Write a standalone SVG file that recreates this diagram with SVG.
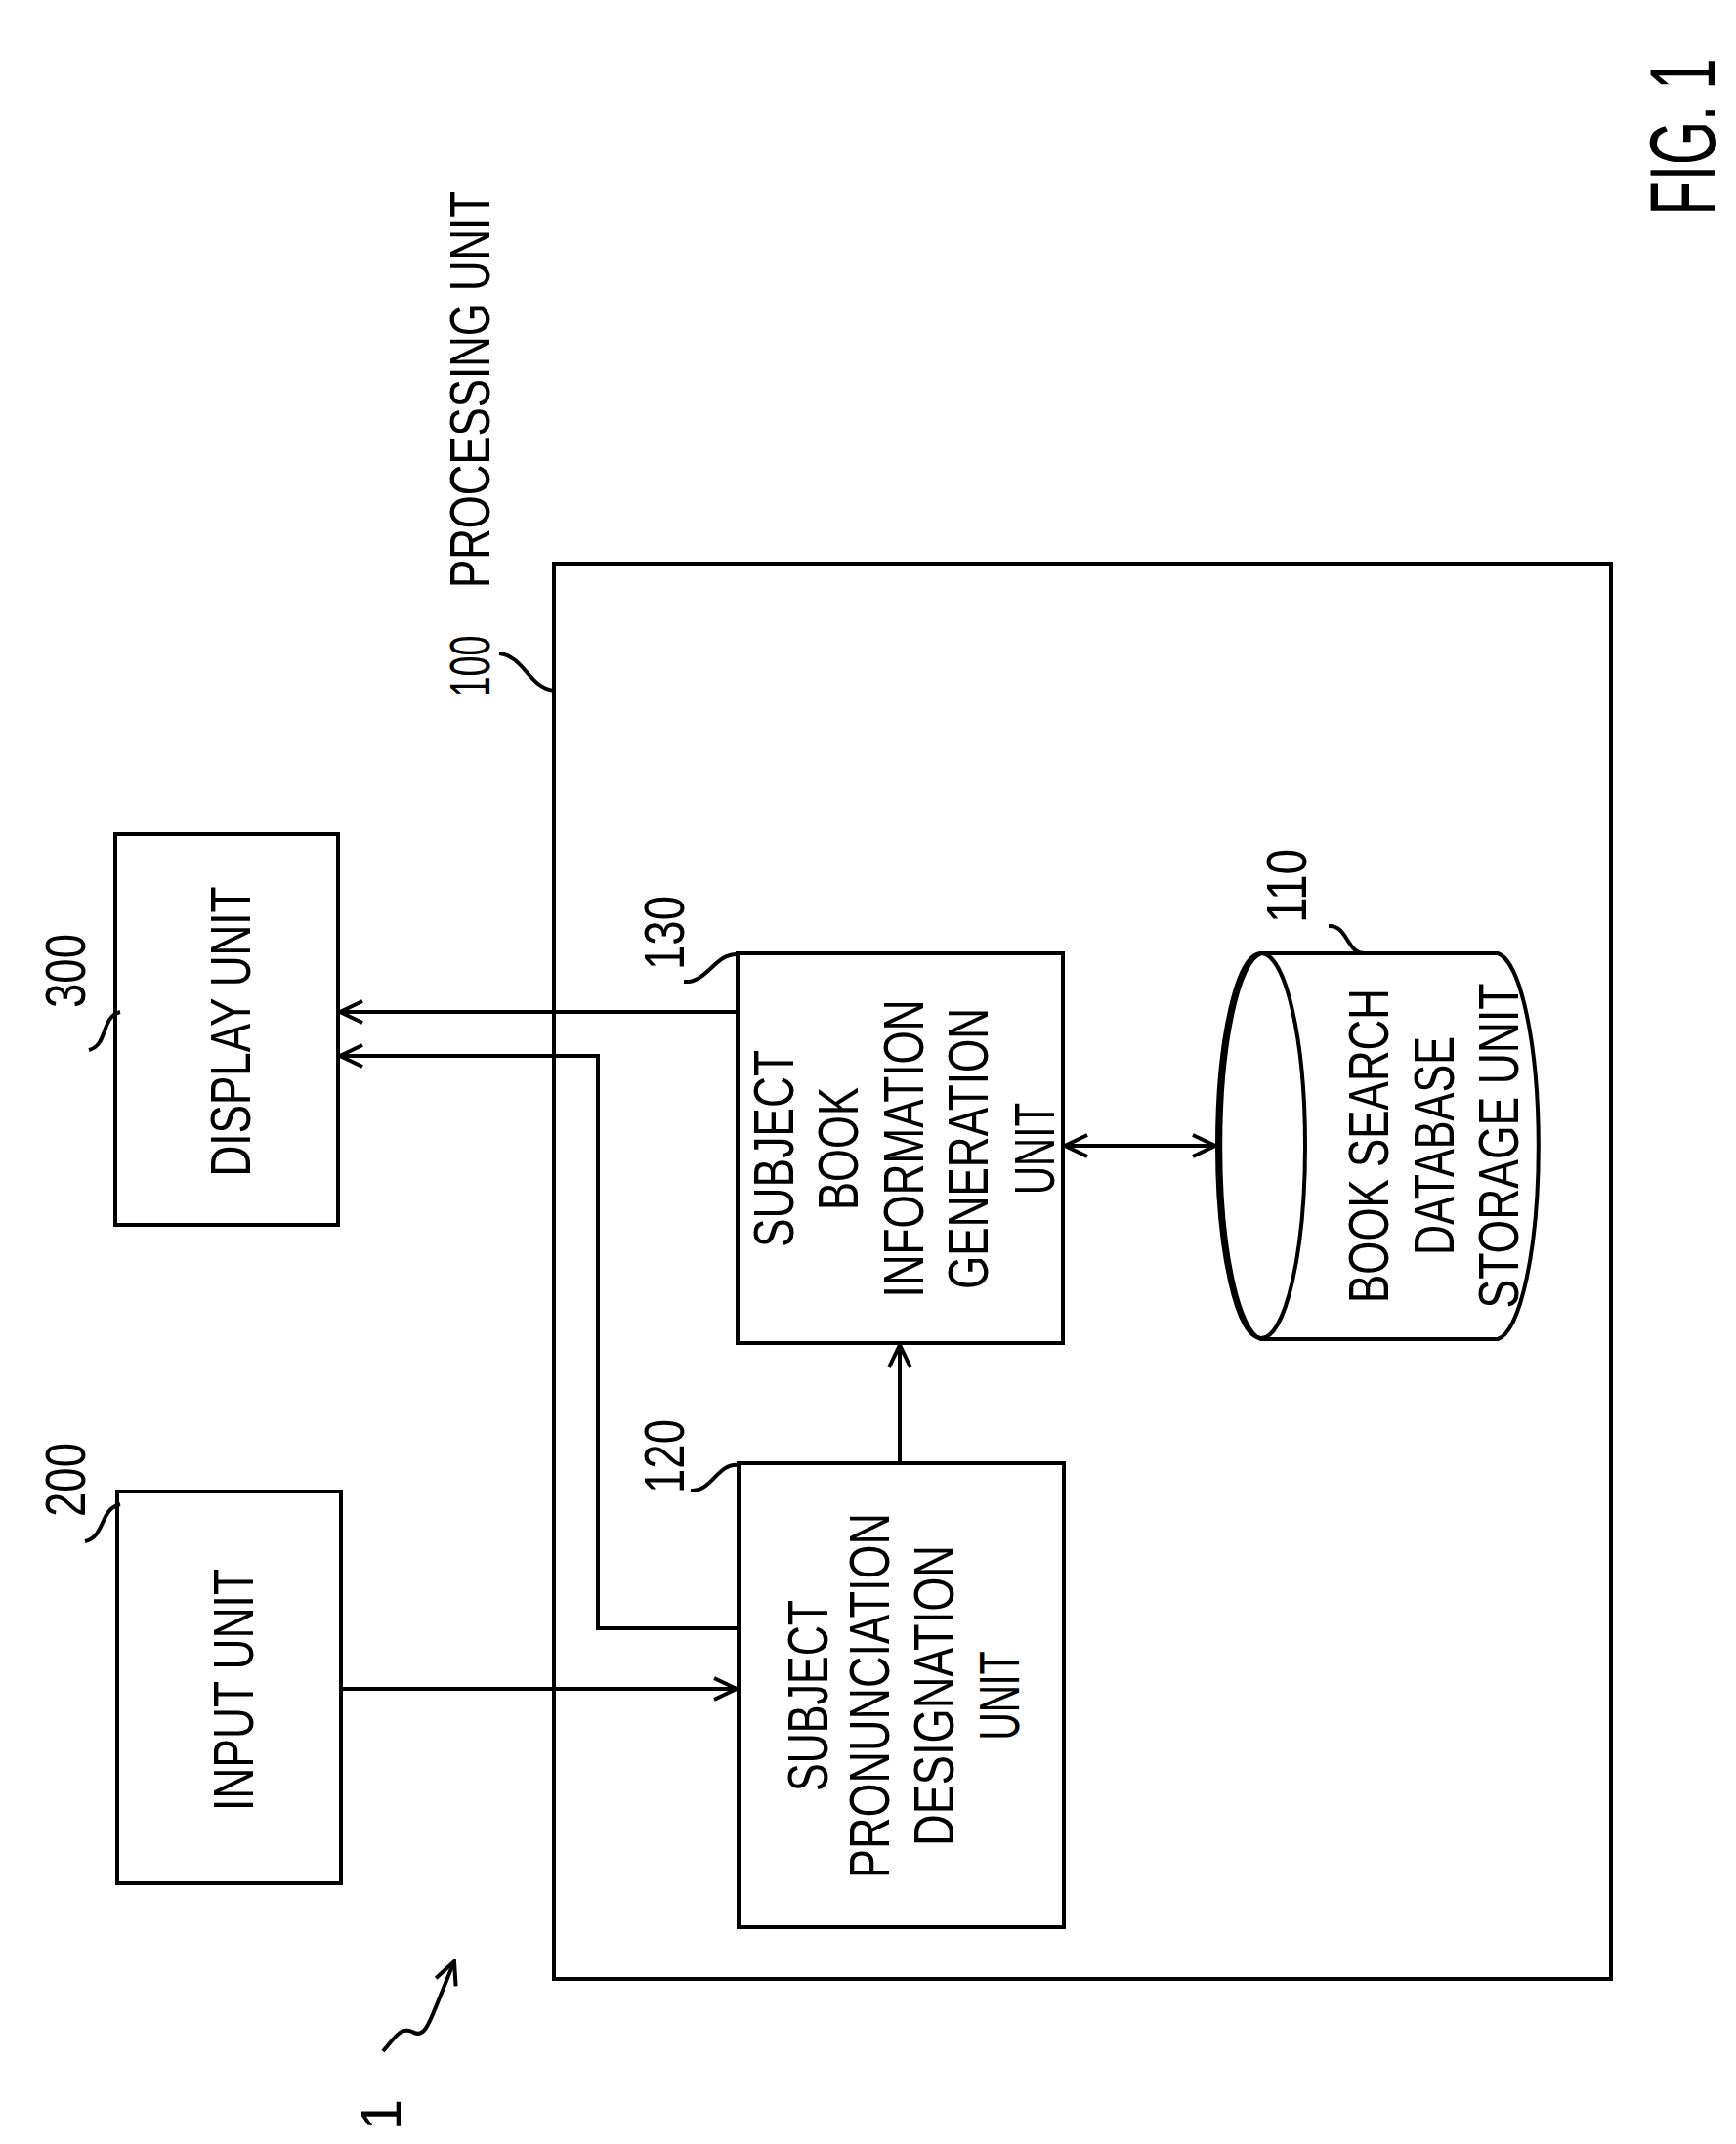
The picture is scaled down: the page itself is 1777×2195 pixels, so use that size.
<svg xmlns="http://www.w3.org/2000/svg" width="1777" height="2195" viewBox="0 0 1777 2195">
<style>
.b{fill:#fff;stroke:#000;stroke-width:4}
.l{fill:none;stroke:#000;stroke-width:4}
text{font-family:"Liberation Sans",Arial,sans-serif;font-size:58px;fill:#000;text-anchor:middle;dominant-baseline:central}
</style>
<defs>
<marker id="a" viewBox="0 0 28 28" refX="26" refY="14" markerWidth="28" markerHeight="28" markerUnits="userSpaceOnUse" orient="auto-start-reverse">
<path d="M3,3 L26,14 L3,25" fill="none" stroke="#000" stroke-width="4"/>
</marker>
</defs>
<rect width="1777" height="2195" fill="#fff"/>
<g id="n100"><rect class="b" x="567" y="577" width="1082" height="1449"/>
<text transform="translate(480,682) rotate(-90)" textLength="63" lengthAdjust="spacingAndGlyphs">100</text>
<text transform="translate(480,399) rotate(-90)" textLength="406" lengthAdjust="spacingAndGlyphs">PROCESSING UNIT</text>
<path class="l" d="M511,669 C537,672 541,704 567,707"/></g>
<g id="n300"><rect class="b" x="118" y="854" width="228" height="400"/>
<text transform="translate(235,1056) rotate(-90)" textLength="297" lengthAdjust="spacingAndGlyphs">DISPLAY UNIT</text>
<text transform="translate(66,994) rotate(-90)" textLength="76" lengthAdjust="spacingAndGlyphs">300</text>
<path class="l" d="M91,1075 C111,1070 103,1041 123,1036"/></g>
<g id="n200"><rect class="b" x="120" y="1527" width="229" height="401"/>
<text transform="translate(238,1730) rotate(-90)" textLength="248" lengthAdjust="spacingAndGlyphs">INPUT UNIT</text>
<text transform="translate(66,1515) rotate(-90)" textLength="76" lengthAdjust="spacingAndGlyphs">200</text>
<path class="l" d="M87,1578 C108,1573 102,1545 123,1540"/></g>
<g id="n130"><rect class="b" x="755" y="976" width="333" height="399"/>
<text transform="translate(791,1176) rotate(-90)" textLength="202" lengthAdjust="spacingAndGlyphs">SUBJECT</text>
<text transform="translate(857,1176) rotate(-90)" textLength="126" lengthAdjust="spacingAndGlyphs">BOOK</text>
<text transform="translate(924,1176) rotate(-90)" textLength="305" lengthAdjust="spacingAndGlyphs">INFORMATION</text>
<text transform="translate(990,1176) rotate(-90)" textLength="288" lengthAdjust="spacingAndGlyphs">GENERATION</text>
<text transform="translate(1058,1176) rotate(-90)" textLength="94" lengthAdjust="spacingAndGlyphs">UNIT</text>
<text transform="translate(679,955) rotate(-90)" textLength="76" lengthAdjust="spacingAndGlyphs">130</text>
<path class="l" d="M700,1005 C724,1007 732,975 756,977"/></g>
<g id="n120"><rect class="b" x="756" y="1498" width="333" height="475"/>
<text transform="translate(826,1736) rotate(-90)" textLength="196" lengthAdjust="spacingAndGlyphs">SUBJECT</text>
<text transform="translate(889,1736) rotate(-90)" textLength="374" lengthAdjust="spacingAndGlyphs">PRONUNCIATION</text>
<text transform="translate(955,1736) rotate(-90)" textLength="308" lengthAdjust="spacingAndGlyphs">DESIGNATION</text>
<text transform="translate(1022,1736) rotate(-90)" textLength="91" lengthAdjust="spacingAndGlyphs">UNIT</text>
<text transform="translate(679,1491) rotate(-90)" textLength="76" lengthAdjust="spacingAndGlyphs">120</text>
<path class="l" d="M707,1526 C728,1528 735,1497 756,1500"/></g>
<g id="n110">
<path class="b" d="M1291,976 L1533,976 A45,198 0 0 1 1533,1371 L1291,1371 A45,198 0 0 1 1291,976 Z"/>
<ellipse class="l" cx="1291" cy="1173" rx="45" ry="197"/>
<text transform="translate(1400,1173) rotate(-90)" textLength="322" lengthAdjust="spacingAndGlyphs">BOOK SEARCH</text>
<text transform="translate(1467,1173) rotate(-90)" textLength="224" lengthAdjust="spacingAndGlyphs">DATABASE</text>
<text transform="translate(1533,1173) rotate(-90)" textLength="333" lengthAdjust="spacingAndGlyphs">STORAGE UNIT</text>
<text transform="translate(1316,907) rotate(-90)" textLength="76" lengthAdjust="spacingAndGlyphs">110</text>
<path class="l" d="M1360,948 C1380,947 1378,977 1398,976"/></g>
<g id="n1"><text transform="translate(389,2165) rotate(-90)">1</text>
<path class="l" d="M392,2100 C405,2085 410,2075 422,2080 C434,2088 440,2070 448,2050 L465,2008" marker-end="url(#a)"/></g>
<text transform="translate(1722,140) rotate(-90)" style="font-size:96px" textLength="161" lengthAdjust="spacingAndGlyphs">FIG. 1</text>
<g id="connectors">
<path class="l" d="M755,1036 L348,1036" marker-end="url(#a)"/>
<path class="l" d="M756,1667 L612,1667 L612,1081 L348,1081" marker-end="url(#a)"/>
<path class="l" d="M349,1729 L754,1729" marker-end="url(#a)"/>
<path class="l" d="M921,1498 L921,1377" marker-end="url(#a)"/>
<path class="l" d="M1090,1173 L1244,1173" marker-start="url(#a)" marker-end="url(#a)"/>
</g>
</svg>
